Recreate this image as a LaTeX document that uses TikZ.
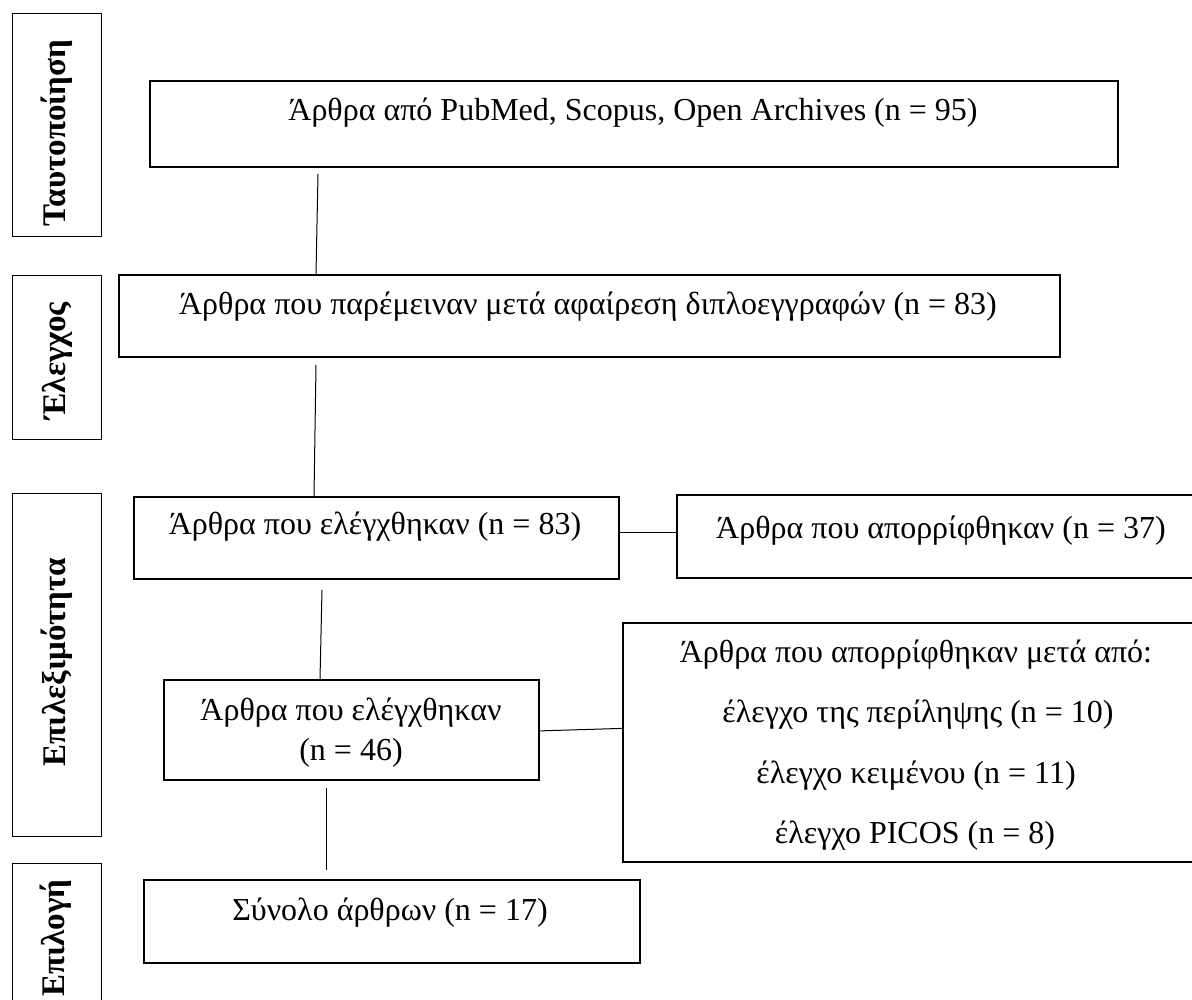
\documentclass[tikz,border=0pt]{standalone}
\usepackage{fontspec}
\setmainfont{Liberation Serif}
\usetikzlibrary{positioning}
\tikzstyle{flow-box}=[draw=black,line width=1.8pt,rectangle,anchor=north west,inner sep=0pt]
\tikzstyle{stage-box}=[draw=black,line width=1.2pt,rectangle,anchor=north west,inner sep=0pt]
\tikzstyle{flow-text}=[anchor=base,inner sep=0pt,font=\fontsize{32}{38}\selectfont]
\tikzstyle{stage-text}=[rotate=90,inner sep=0pt,font=\fontsize{33}{38}\selectfont\bfseries]
\tikzstyle{thin-line}=[draw=black,line width=1pt]

\begin{document}
\begin{tikzpicture}[x=1pt,y=-1pt]
	\useasboundingbox (0,0) rectangle (1192,1000);
	\begin{scope}
	% stages on the left
	\node (s1)[stage-box,minimum width=89pt,minimum height=223pt] at (12,13) {};
	\node (s2)[stage-box,minimum width=89pt,minimum height=164pt] at (12,275) {};
	\node (s3)[stage-box,minimum width=89pt,minimum height=343pt] at (12,493) {};
	\node (s4)[stage-box,minimum width=89pt,minimum height=160pt] at (12,863) {};
	\node (t1)[stage-text] at (57,133) {Ταυτοποίηση};
	\node (t2)[stage-text] at (57,361) {Έλεγχος};
	\node (t3)[stage-text] at (57,662) {Επιλεξιμότητα};
	\node (t4)[stage-text] at (56,938) {Επιλογή};
	\end{scope}
	
	\begin{scope}
	\node (b1)[flow-box,minimum width=968pt,minimum height=86pt] at (149,80) {};
	\node (b2)[flow-box,minimum width=941pt,minimum height=82pt] at (118,274) {};
	\node (b3)[flow-box,minimum width=485pt,minimum height=82pt] at (133,496) {};
	\node (b4)[flow-box,minimum width=540pt,minimum height=83pt] at (676,494) {};
	\node (b5)[flow-box,minimum width=375pt,minimum height=100pt] at (163,679) {};
	\node (b6)[flow-box,minimum width=590pt,minimum height=239pt] at (622,622) {};
	\node (b7)[flow-box,minimum width=496pt,minimum height=83pt] at (143,879) {};
	\end{scope}
	
	\begin{scope}
	\node (n1)[flow-text] at (633,121) {Άρθρα από PubMed, Scopus, Open Archives (n = 95)};
	\node (n2)[flow-text] at (588,315) {Άρθρα που παρέμειναν μετά αφαίρεση διπλοεγγραφών (n = 83)};
	\node (n3)[flow-text] at (375,534) {Άρθρα που ελέγχθηκαν (n = 83)};
	\node (n4)[flow-text] at (941,538) {Άρθρα που απορρίφθηκαν (n = 37)};
	\node (n5a)[flow-text] at (351,720) {Άρθρα που ελέγχθηκαν};
	\node (n5b)[flow-text] at (351,760) {(n = 46)};
	\node (n6a)[flow-text] at (916,662) {Άρθρα που απορρίφθηκαν μετά από:};
	\node (n6b)[flow-text] at (918,722) {έλεγχο της περίληψης (n = 10)};
	\node (n6c)[flow-text] at (916,783) {έλεγχο κειμένου (n = 11)};
	\node (n6d)[flow-text] at (915,843) {έλεγχο PICOS (n = 8)};
	\node (n7)[flow-text] at (390,920) {Σύνολο άρθρων (n = 17)};
	\end{scope}
	
	\begin{scope}
	\coordinate (l1) at (318,174);
	\coordinate (l2) at (316,365);
	\coordinate (l3) at ([yshift=5pt]b3.east);
	\coordinate (l4) at (322,590);
	\coordinate (l6a) at (326,788);
	\coordinate (l6b) at (326,870);
	\path [thin-line] (l1) -- (b2.north west -| 316,0);
	\path [thin-line] (l2) -- (b3.north west -| 314,0);
	\path [thin-line] (l4) -- (b5.north west -| 320,0);
	\path [thin-line] (l6a) -- (l6b);
	\path [thin-line] (l3) -- (b4.west |- l3);
	\path [thin-line] ([yshift=-1pt]b5.east) -- ([yshift=14pt]b6.west);
	\end{scope}
\end{tikzpicture}
\end{document}
